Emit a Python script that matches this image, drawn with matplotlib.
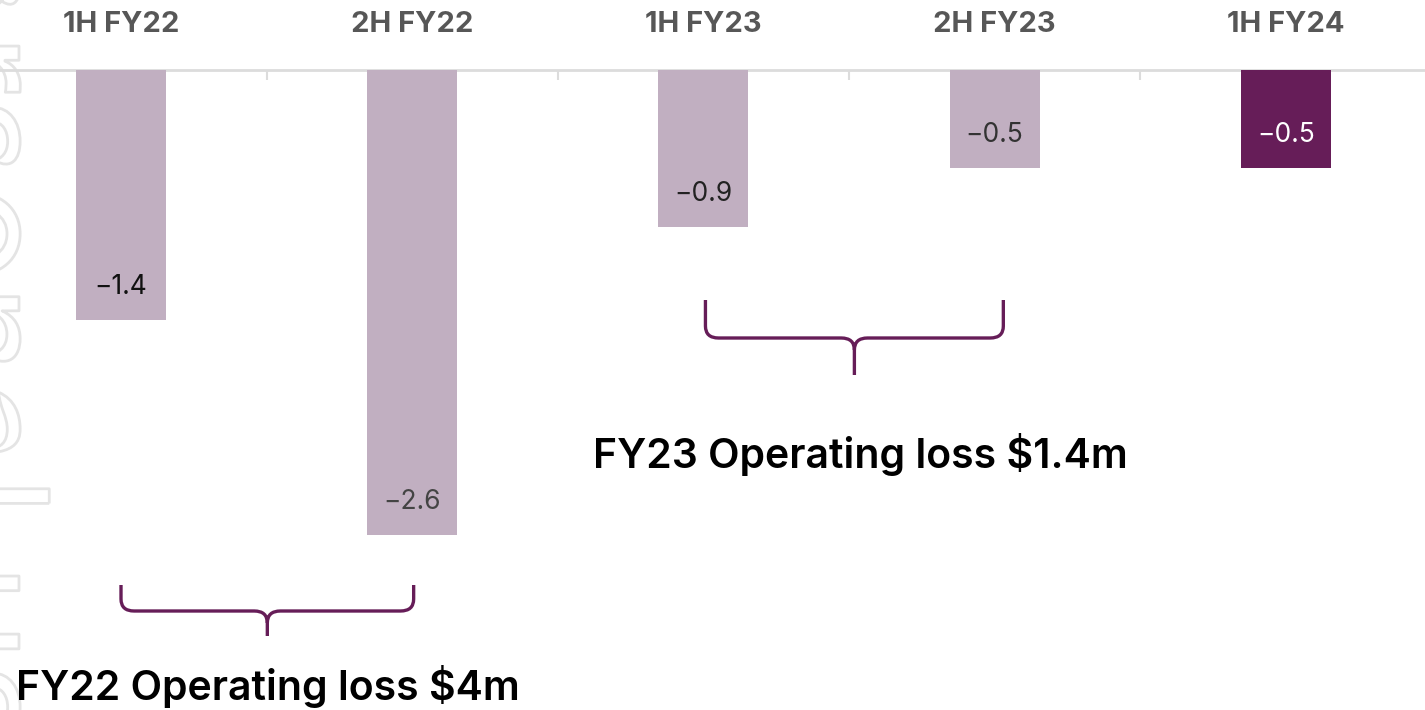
import numpy as np
import matplotlib.pyplot as plt
from matplotlib.path import Path
from matplotlib.patches import PathPatch
import matplotlib.patheffects as pe

plt.rcParams['font.family'] = ['Inter', 'DejaVu Sans']

# data
periods = ['1H FY22', '2H FY22', '1H FY23', '2H FY23', '1H FY24']
loss = [-1.4, -2.6, -0.88, -0.55, -0.55]
loss_labels = ['\u22121.4', '\u22122.6', '\u22120.9', '\u22120.5', '\u22120.5']
groups = ['FY22 Operating loss $4m', 'FY23 Operating loss $1.4m']
group_members = [(0, 1), (2, 3)]

light = '#c1afc1'
dark = '#661d58'
bar_colors = [light, light, light, light, dark]
label_colors = ['#111111', '#444444', '#222222', '#333333', 'white']

W, H = 1425, 710
fig = plt.figure(figsize=(W / 100, H / 100), dpi=100)

# faint watermark at the left edge, mostly off the page
fig.text(-72 / W, 0.47, 'For personal use only', rotation=-90, rotation_mode='anchor',
         ha='center', va='baseline', fontsize=120, color='none', zorder=-1,
         path_effects=[pe.withStroke(linewidth=2, foreground='#e4e4e4')])

# one data unit = ~178.7 px, zero line at 70 px from the top
k = 178.7
band = 291.2
x_left = 121 - band / 2
ax = fig.add_axes([x_left / W, 0, 5 * band / W, 1])
ax.patch.set_alpha(0)
ax.set_xlim(-0.5, 4.5)
ax.set_ylim(-(H - 70) / k, 70 / k)
ax.axis('off')

x = np.arange(len(periods))
ax.bar(x, loss, width=90 / band, color=bar_colors, zorder=2)

ax.axhline(0, color='#dcdcdc', lw=2, zorder=1)
ax.vlines(x[:-1] + 0.5, -10 / k, 0, color='#dcdcdc', lw=1.5)

for i, p in enumerate(periods):
    ax.text(i, 46 / k, p, ha='center', va='center', fontsize=21,
            fontweight='bold', color='#575757')
    ax.text(i, loss[i] + 33 / k, loss_labels[i], ha='center', va='center',
            fontsize=19, color=label_colors[i], zorder=3)


def bracket(ax, x0, x1, ytop, ymid, ytip, color):
    rx, ry = 0.045, 12 / k
    xc = (x0 + x1) / 2
    verts = [(x0, ytop), (x0, ymid + ry), (x0, ymid), (x0 + rx, ymid),
             (xc - rx, ymid), (xc, ymid), (xc, ymid - ry), (xc, ytip),
             (xc, ymid - ry), (xc, ymid), (xc + rx, ymid),
             (x1 - rx, ymid), (x1, ymid), (x1, ymid + ry), (x1, ytop)]
    codes = [Path.MOVETO, Path.LINETO, Path.CURVE3, Path.CURVE3,
             Path.LINETO, Path.CURVE3, Path.CURVE3, Path.LINETO,
             Path.MOVETO, Path.CURVE3, Path.CURVE3,
             Path.LINETO, Path.CURVE3, Path.CURVE3, Path.LINETO]
    ax.add_patch(PathPatch(Path(verts, codes), fill=False, edgecolor=color,
                           lw=2.4, capstyle='butt', joinstyle='round'))


# FY22 bracket and text
a, b = group_members[0]
bracket(ax, a, b + 0.005, -(585 - 70) / k, -(611 - 70) / k, -(636 - 70) / k, dark)
ax.text((a + b) / 2 + 0.005, -(687 - 70) / k, groups[0], ha='center', va='center',
        fontsize=29.5, fontweight='semibold', color='black', zorder=4)

# FY23 bracket and text
a, b = group_members[1]
bracket(ax, a + 0.007, b + 0.03, -(300 - 70) / k, -(338 - 70) / k, -(375 - 70) / k, dark)
ax.text((a + b) / 2 + 0.04, -(455 - 70) / k, groups[1], ha='center', va='center',
        fontsize=29.5, fontweight='semibold', color='black', zorder=4)

fig.savefig('out.png', dpi=100)
